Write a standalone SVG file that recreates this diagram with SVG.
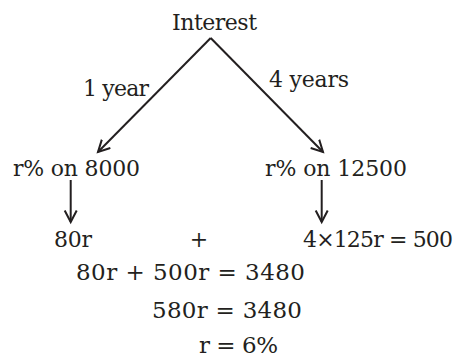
<svg xmlns="http://www.w3.org/2000/svg" width="455" height="358" viewBox="0 0 455 358">
<style>
text{font-family:"DejaVu Serif","Liberation Serif",serif;font-size:22px;fill:#231f20}
.e{font-size:23px}
.c{stroke:#231f20;stroke-width:2;fill:none}
</style>
<defs>
<marker id="ah" markerUnits="userSpaceOnUse" markerWidth="16" markerHeight="16" refX="12" refY="7" orient="auto" viewBox="0 0 16 16">
<path d="M0.5,1 L12,7 L0.5,13" fill="none" stroke="#231f20" stroke-width="2"/>
</marker>
</defs>
<rect width="455" height="358" fill="#fff"/>
<g id="connectors">
<line class="c" x1="210.7" y1="38" x2="98" y2="152" marker-end="url(#ah)"/>
<line class="c" x1="210.7" y1="38" x2="323" y2="152" marker-end="url(#ah)"/>
<line class="c" x1="70.7" y1="180" x2="70.7" y2="222" marker-end="url(#ah)"/>
<line class="c" x1="321.7" y1="180" x2="321.7" y2="222" marker-end="url(#ah)"/>
<text x="83" y="96" textLength="66" lengthAdjust="spacing">1 year</text>
<text x="269" y="87" textLength="80" lengthAdjust="spacing">4 years</text>
</g>
<g id="interest"><text x="172" y="30" textLength="85" lengthAdjust="spacing">Interest</text></g>
<g id="left"><text x="13" y="176" textLength="127" lengthAdjust="spacing">r% on 8000</text></g>
<g id="right"><text x="265" y="176" textLength="142" lengthAdjust="spacing">r% on 12500</text></g>
<g id="left2"><text x="54" y="247" textLength="38" lengthAdjust="spacing">80r</text></g>
<g id="plus"><text x="199" y="247" text-anchor="middle">+</text></g>
<g id="right2"><text x="303" y="247" textLength="150" lengthAdjust="spacing">4×125r = 500</text></g>
<g id="eq1"><text class="e" x="76" y="280" textLength="229" lengthAdjust="spacing">80r + 500r = 3480</text></g>
<g id="eq2"><text class="e" x="152" y="318" textLength="150" lengthAdjust="spacing">580r = 3480</text></g>
<g id="eq3"><text class="e" x="199" y="353" textLength="79" lengthAdjust="spacing">r = 6%</text></g>
</svg>
